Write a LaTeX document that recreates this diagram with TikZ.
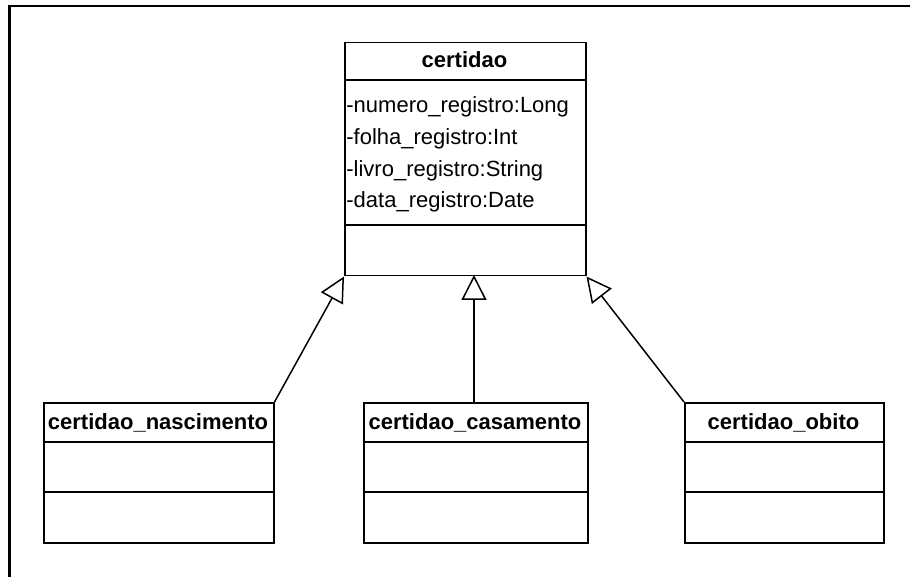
\documentclass[tikz,border=0pt]{standalone}
\usepackage{fontspec}
\setmainfont{Liberation Sans}
\usetikzlibrary{arrows.meta}
\begin{document}
\begin{tikzpicture}[x=0.5pt,y=-0.5pt,
  umlbox/.style={draw, line width=0.75pt, inner sep=0pt, anchor=north west},
  sep/.style={line width=0.75pt},
  classname/.style={font=\fontsize{11}{13}\selectfont\bfseries, inner sep=0pt, anchor=base},
  attr/.style={font=\fontsize{11}{13}\selectfont, inner sep=0pt, anchor=base west},
  inherit/.style={line width=0.75pt, -{Triangle[open, length=12.5pt, width=12.5pt, fill=white]}},
  frame/.style={line width=1.1pt, line cap=rect}]
\useasboundingbox (0,0) rectangle (910,577);
% outer frame (top and left edges)
\coordinate (ftl) at (9.5,6);
\coordinate (ftr) at (910,6);
\coordinate (fbl) at (9.5,577);
\draw[frame] (fbl) -- (ftl) -- (ftr);

% superclass
\node[umlbox, minimum width=241*0.5pt, minimum height=233*0.5pt] (cert) at (344,42) {};
\draw[sep] (344,80) -- (585,80);
\draw[sep] (344,225) -- (585,225);
\node[classname] (certT) at (464.5,68) {certidao};
\node[attr] (a1) at (346,113) {-numero\_registro:Long};
\node[attr] (a2) at (346,144.7) {-folha\_registro:Int};
\node[attr] (a3) at (346,176.4) {-livro\_registro:String};
\node[attr] (a4) at (346,208) {-data\_registro:Date};

% subclasses
\node[umlbox, minimum width=230*0.5pt, minimum height=140*0.5pt] (nasc) at (43,402) {};
\draw[sep] (43,442) -- (273,442);
\draw[sep] (43,492) -- (273,492);
\node[classname] (nascT) at (158,429) {certidao\_nascimento};

\node[umlbox, minimum width=224*0.5pt, minimum height=140*0.5pt] (casa) at (363,402) {};
\draw[sep] (363,442) -- (587,442);
\draw[sep] (363,492) -- (587,492);
\node[classname] (casaT) at (475,429) {certidao\_casamento};

\node[umlbox, minimum width=199*0.5pt, minimum height=140*0.5pt] (obito) at (684,402) {};
\draw[sep] (684,442) -- (883,442);
\draw[sep] (684,492) -- (883,492);
\node[classname] (obitoT) at (783.5,429) {certidao\_obito};

% generalisations
\coordinate (casaTop) at (474,402);
\coordinate (certMid) at (474,275);
\draw[inherit] (nasc.north east) -- (cert.south west);
\draw[inherit] (casaTop) -- (certMid);
\draw[inherit] (obito.north west) -- (cert.south east);
\end{tikzpicture}
\end{document}
